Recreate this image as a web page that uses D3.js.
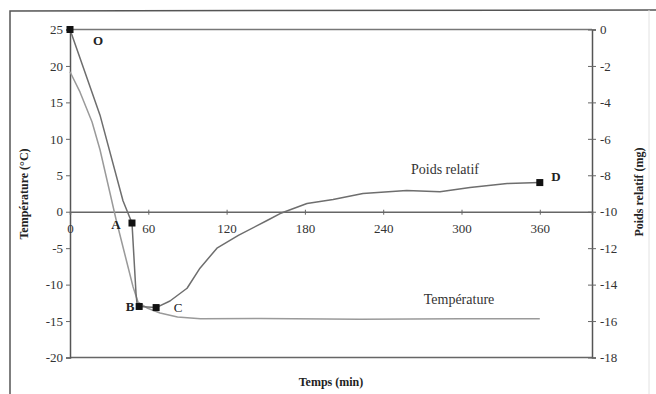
<!DOCTYPE html>
<html>
<head>
<meta charset="utf-8">
<script src="https://cdn.jsdelivr.net/npm/d3@7"></script>
<style>
    body { margin: 0; background: #fff; }
    #chart { width: 656px; height: 394px; }
    text { font-family: 'Liberation Serif', 'DejaVu Serif', serif; }
</style>
</head>
<body>
<div id="chart"></div>
<script>
// data
const tempTimes = [0, 7.7, 16.9, 23, 30.6, 35.2, 42.1, 48.3, 52.1, 59, 69, 82.4, 100, 146, 222, 300, 360];
const tempValues = [19.2, 16.4, 12.3, 8.5, 2.6, -1.0, -5.9, -10.3, -12.4, -13.2, -13.9, -14.45, -14.7, -14.65, -14.75, -14.7, -14.7];

const weightTimes = [0, 23, 40.6, 47.5, 50.6, 51.3, 53, 66, 76.6, 89.7, 99.6, 112.6, 129, 151, 161, 181.6, 201.6, 224.5, 258, 283.5, 306.5, 335, 360];
const weightValues = [0, -4.7, -9.4, -10.62, -14.5, -15.0, -15.2, -15.26, -14.9, -14.2, -13.1, -12.0, -11.3, -10.48, -10.1, -9.55, -9.33, -9.0, -8.84, -8.9, -8.67, -8.45, -8.4];

// marked points on the weight curve
const markTimes = [0, 47.5, 53, 66, 360];
const markValues = [0, -10.62, -15.2, -15.26, -8.4];

const timeTicks = [0, 60, 120, 180, 240, 300, 360];
const tempTicks = [-20, -15, -10, -5, 0, 5, 10, 15, 20, 25];
const weightTicks = [-18, -16, -14, -12, -10, -8, -6, -4, -2, 0];

const width = 656;
const height = 394;
const plot = { left: 70, right: 592, top: 29.5, bottom: 357.5 };

const svg = d3.select('#chart')
    .append('svg')
    .attr('width', width)
    .attr('height', height);

// outer frame
svg.append('path')
    .attr('d', `M10,${height} L10,11 L${width},10`)
    .attr('fill', 'none')
    .attr('stroke', '#555')
    .attr('stroke-width', 1.5);
svg.append('line')
    .attr('x1', 649).attr('x2', 649)
    .attr('y1', 10).attr('y2', height)
    .attr('stroke', '#e2e2e2')
    .attr('stroke-width', 1);

// scales
const x = d3.scaleLinear().domain([0, 400]).range([plot.left, plot.right]);
const yT = d3.scaleLinear().domain([-20, 25]).range([plot.bottom, plot.top]);
const yW = d3.scaleLinear().domain([-18, 0]).range([plot.bottom, plot.top]);

const plain = d => String(d); // hyphen minus like the original

// frame top / bottom
svg.append('line')
    .attr('x1', plot.left).attr('x2', plot.right)
    .attr('y1', plot.top).attr('y2', plot.top)
    .attr('stroke', '#777').attr('stroke-width', 1.5);
svg.append('line')
    .attr('x1', plot.left).attr('x2', plot.right)
    .attr('y1', plot.bottom).attr('y2', plot.bottom)
    .attr('stroke', '#666').attr('stroke-width', 1.5);

// left axis
const leftAxis = svg.append('g')
    .attr('transform', `translate(${plot.left},0)`)
    .call(d3.axisLeft(yT).tickValues(tempTicks).tickFormat(plain).tickSize(4).tickPadding(3));

// right axis
const rightAxis = svg.append('g')
    .attr('transform', `translate(${plot.right},0)`)
    .call(d3.axisRight(yW).tickValues(weightTicks).tickFormat(plain).tickSize(4).tickPadding(4));
rightAxis.selectAll('.tick line').attr('x1', -4);

// time axis on the 0 °C line
const xAxis = svg.append('g')
    .attr('transform', `translate(0,${yT(0)})`)
    .call(d3.axisBottom(x).tickValues(timeTicks).tickFormat(plain).tickSize(3).tickPadding(9));
xAxis.selectAll('.tick line').attr('y1', -2);

[leftAxis, rightAxis, xAxis].forEach(a => {
    a.select('.domain').attr('stroke', '#555').attr('stroke-width', 1.5);
    a.selectAll('.tick line').attr('stroke', '#666');
    a.selectAll('text')
        .attr('fill', '#333')
        .style('font-size', '13px')
        .style('font-family', "'Liberation Serif', serif");
});
xAxis.select('.domain').attr('stroke', '#666');

// curves
const line = d3.line();

svg.append('path')
    .attr('fill', 'none')
    .attr('stroke', '#9a9a9a')
    .attr('stroke-width', 1.5)
    .attr('stroke-linejoin', 'round')
    .attr('d', line(tempTimes.map((t, i) => [x(t), yT(tempValues[i])])));

svg.append('path')
    .attr('fill', 'none')
    .attr('stroke', '#6e6e6e')
    .attr('stroke-width', 1.5)
    .attr('stroke-linejoin', 'round')
    .attr('d', line(weightTimes.map((t, i) => [x(t), yW(weightValues[i])])));

svg.append('g')
    .selectAll('rect')
    .data(markTimes)
    .join('rect')
    .attr('x', d => x(d) - 3.5)
    .attr('y', (d, i) => yW(markValues[i]) - 3.5)
    .attr('width', 7)
    .attr('height', 7)
    .attr('fill', '#111');

// point letters
const letters = [
    { t: 'O', x: 98, y: 45, w: 'bold' },
    { t: 'A', x: 116, y: 229, w: 'bold' },
    { t: 'B', x: 130, y: 311, w: 'bold' },
    { t: 'C', x: 178, y: 312, w: 'normal' },
    { t: 'D', x: 556, y: 181, w: 'bold' }
];
svg.append('g')
    .selectAll('text')
    .data(letters)
    .join('text')
    .attr('x', d => d.x)
    .attr('y', d => d.y)
    .attr('text-anchor', 'middle')
    .attr('fill', '#222')
    .style('font-size', '13px')
    .style('font-weight', d => d.w)
    .text(d => d.t);

// series labels
svg.append('text')
    .attr('x', 445).attr('y', 174)
    .attr('text-anchor', 'middle')
    .attr('fill', '#333')
    .style('font-size', '14px')
    .text('Poids relatif');
svg.append('text')
    .attr('x', 459).attr('y', 304)
    .attr('text-anchor', 'middle')
    .attr('fill', '#333')
    .style('font-size', '14px')
    .text('Température');

// axis titles
svg.append('text')
    .attr('transform', 'translate(28,194) rotate(-90)')
    .attr('text-anchor', 'middle')
    .attr('fill', '#222')
    .style('font-size', '12px')
    .style('font-weight', 'bold')
    .text('Température (°C)');
svg.append('text')
    .attr('transform', 'translate(643,192) rotate(-90)')
    .attr('text-anchor', 'middle')
    .attr('fill', '#222')
    .style('font-size', '12px')
    .style('font-weight', 'bold')
    .text('Poids relatif (mg)');
svg.append('text')
    .attr('x', (plot.left + plot.right) / 2).attr('y', 386)
    .attr('text-anchor', 'middle')
    .attr('fill', '#222')
    .style('font-size', '12px')
    .style('font-weight', 'bold')
    .text('Temps (min)');
</script>
</body>
</html>
